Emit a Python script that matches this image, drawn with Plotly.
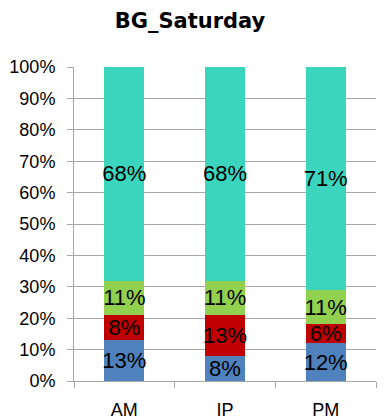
import plotly.graph_objects as go

categories = ["AM", "IP", "PM"]
blue_vals = [13, 8, 12]
red_vals = [8, 13, 6]
green_vals = [11, 11, 11]
teal_vals = [68, 68, 71]
y_tick_vals = [0, 10, 20, 30, 40, 50, 60, 70, 80, 90, 100]
y_tick_text = [f"{v}%" for v in y_tick_vals]

series = [
    ("Blue", blue_vals, "#4F81BD"),
    ("Red", red_vals, "#C00000"),
    ("Green", green_vals, "#92D050"),
    ("Teal", teal_vals, "#3BD5BE"),
]

# Page body has an 8px default margin; size the figure to fit the window.
W, H = 378, 411

fig = go.Figure()
for name, vals, color in series:
    fig.add_trace(go.Bar(
        x=categories, y=vals, name=name,
        marker=dict(color=color, line=dict(width=0)),
        text=[f"{v}%" for v in vals],
        textposition="inside",
        insidetextanchor="middle",
        textangle=0,
        constraintext="none",
        textfont=dict(family="Liberation Sans, Arial, sans-serif", size=22, color="black"),
        width=0.4,
    ))

fig.update_layout(
    barmode="stack",
    width=W, height=H,
    margin=dict(l=66, r=10, t=59, b=38),
    paper_bgcolor="white", plot_bgcolor="white",
    showlegend=False,
    title=dict(text="<b>BG_Saturday</b>", x=(190 - 8) / W, xanchor="center",
               y=1 - 5 / H, yanchor="top", yref="container",
               font=dict(family="DejaVu Sans, sans-serif", size=21, color="black")),
    font=dict(family="Liberation Sans, Arial, sans-serif", size=18, color="black"),
)
fig.update_yaxes(
    range=[0, 100], tickvals=y_tick_vals, ticktext=y_tick_text,
    showgrid=True, gridcolor="#A6A6A6", gridwidth=1,
    showline=True, linecolor="#A6A6A6", linewidth=1,
    ticks="outside", ticklen=6, tickcolor="#A6A6A6",
    ticklabelstandoff=8, automargin=False,
    zeroline=False, tickfont=dict(size=18),
)
fig.update_xaxes(
    showline=True, linecolor="#A6A6A6", linewidth=1,
    ticks="outside", ticklen=6, tickcolor="#A6A6A6",
    tickson="boundaries", showgrid=False, tickfont=dict(size=18),
    ticklabelstandoff=12, automargin=False,
)
fig.write_html("out.html")
